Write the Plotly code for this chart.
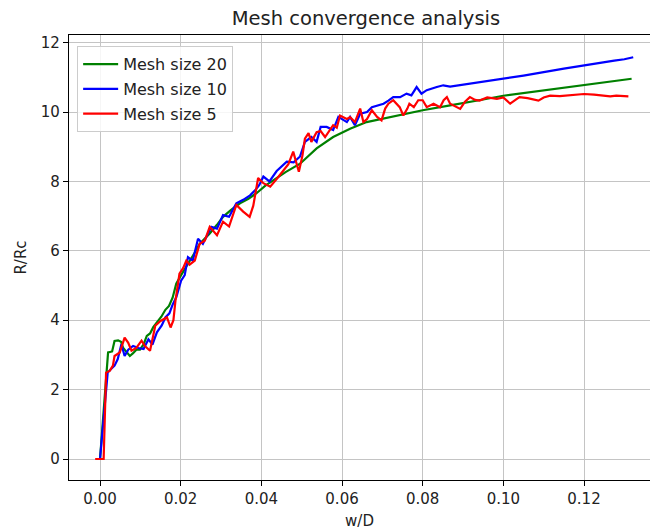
import plotly.graph_objects as go

# Mesh size 20
w20 = [0, 0.0015, 0.002, 0.003, 0.0036, 0.0045, 0.0052, 0.0057, 0.0065, 0.0074, 0.0082, 0.009,
       0.0099, 0.0108, 0.0116, 0.0124, 0.0132, 0.0141, 0.0152, 0.0162, 0.0171, 0.018, 0.0189,
       0.0201, 0.0212, 0.0222, 0.0235, 0.0247, 0.026, 0.0272, 0.029, 0.0305, 0.0325, 0.0347,
       0.0368, 0.0388, 0.041, 0.0435, 0.046, 0.0496, 0.0537, 0.0578, 0.062, 0.0661, 0.0703,
       0.0744, 0.08, 0.0868, 0.09, 0.095, 0.1, 0.105, 0.11, 0.115, 0.12, 0.1255, 0.1318]
r20 = [0, 2.54, 3.07, 3.1, 3.4, 3.42, 3.38, 3.21, 3.1, 2.97, 3.05, 3.15, 3.15, 3.3, 3.55, 3.62,
       3.8, 3.93, 4.1, 4.3, 4.41, 4.65, 5.05, 5.3, 5.5, 5.72, 5.95, 6.2, 6.35, 6.5, 6.75, 6.98,
       7.18, 7.37, 7.5, 7.66, 7.88, 8.08, 8.27, 8.51, 8.95, 9.28, 9.52, 9.71, 9.81, 9.9, 10.05,
       10.19, 10.25, 10.36, 10.47, 10.55, 10.63, 10.7, 10.77, 10.86, 10.96]

# Mesh size 10
w10 = [0, 0.0019, 0.0028, 0.0036, 0.0044, 0.0053, 0.0061, 0.007, 0.0082, 0.0095, 0.0108, 0.012,
       0.013, 0.0141, 0.0153, 0.0162, 0.0172, 0.018, 0.0189, 0.0201, 0.021, 0.0218, 0.023, 0.0243,
       0.0255, 0.0265, 0.0276, 0.029, 0.0305, 0.032, 0.0338, 0.0355, 0.0372, 0.0385, 0.0395,
       0.0405, 0.042, 0.0438, 0.0463, 0.048, 0.0496, 0.0508, 0.0524, 0.0537, 0.0547, 0.0562,
       0.0578, 0.0591, 0.0612, 0.062, 0.0632, 0.0645, 0.0662, 0.0674, 0.069, 0.0703, 0.0715,
       0.0727, 0.0744, 0.076, 0.0772, 0.0785, 0.0797, 0.081, 0.0835, 0.0851, 0.0868, 0.088, 0.09,
       0.0925, 0.095, 0.0975, 0.1, 0.1025, 0.105, 0.1075, 0.11, 0.1125, 0.115, 0.1175, 0.12,
       0.1225, 0.125, 0.1275, 0.13, 0.1322]
r10 = [0, 2.49, 2.6, 2.69, 2.88, 3.31, 2.97, 3.15, 3.26, 3.2, 3.17, 3.45, 3.3, 3.65, 3.85, 4.08,
       4.2, 4.45, 4.66, 5.14, 5.3, 5.82, 5.72, 6.35, 6.2, 6.45, 6.69, 6.64, 7.03, 6.98, 7.37, 7.47,
       7.6, 7.75, 7.9, 8.14, 8.0, 8.3, 8.57, 8.55, 8.72, 9.14, 9.28, 9.14, 9.57, 9.57, 9.48, 9.86,
       9.71, 9.86, 9.62, 9.95, 10.0, 10.14, 10.19, 10.24, 10.33, 10.43, 10.43, 10.53, 10.48, 10.72,
       10.53, 10.63, 10.72, 10.77, 10.73, 10.75, 10.8, 10.84, 10.87, 10.91, 10.96, 11.0, 11.05,
       11.1, 11.16, 11.2, 11.25, 11.3, 11.35, 11.4, 11.44, 11.48, 11.52, 11.58]

# Mesh size 5
w5 = [-0.0012, 0.0009, 0.0015, 0.0024, 0.0032, 0.0036, 0.0049, 0.0061, 0.007, 0.0078, 0.009,
      0.0103, 0.0112, 0.0124, 0.0137, 0.015, 0.0166, 0.0175, 0.0182, 0.0187, 0.0197, 0.0206,
      0.0214, 0.0222, 0.0235, 0.0247, 0.026, 0.0272, 0.029, 0.0305, 0.032, 0.0338, 0.0355, 0.0371,
      0.038, 0.0392, 0.0405, 0.0422, 0.044, 0.0455, 0.0467, 0.0479, 0.0493, 0.0502, 0.0508,
      0.0517, 0.0524, 0.0537, 0.0547, 0.0558, 0.057, 0.0578, 0.0587, 0.0595, 0.0612, 0.062,
      0.0632, 0.0645, 0.0653, 0.0662, 0.0674, 0.0687, 0.0698, 0.0707, 0.0715, 0.0727, 0.0743,
      0.0752, 0.0762, 0.0767, 0.0778, 0.0789, 0.08, 0.081, 0.0827, 0.0843, 0.0852, 0.086, 0.0868,
      0.0893, 0.0905, 0.0917, 0.093, 0.0941, 0.096, 0.0984, 0.1, 0.1017, 0.103, 0.104, 0.106,
      0.1087, 0.11, 0.1116, 0.114, 0.117, 0.12, 0.1225, 0.125, 0.1265, 0.128, 0.131]
r5 = [0, 0, 2.49, 2.54, 2.69, 2.97, 3.07, 3.5, 3.35, 3.12, 3.2, 3.41, 3.25, 3.12, 3.84, 3.98, 4.08,
      3.79, 4.0, 4.56, 5.34, 5.5, 5.72, 5.6, 5.72, 6.2, 6.3, 6.69, 6.45, 6.84, 6.7, 7.32, 7.13, 6.98,
      7.3, 8.1, 7.95, 7.85, 8.1, 8.33, 8.5, 8.86, 8.28, 8.75, 9.23, 9.39, 9.14, 9.42, 9.45, 9.28,
      9.5, 9.62, 9.55, 9.9, 9.8, 9.85, 9.71, 10.1, 9.71, 9.8, 10.05, 9.86, 9.76, 10.1, 10.24,
      10.34, 10.14, 9.9, 10.1, 10.24, 10.14, 10.34, 10.34, 10.14, 10.24, 10.14, 10.34, 10.43,
      10.24, 10.09, 10.3, 10.43, 10.35, 10.33, 10.42, 10.38, 10.42, 10.24, 10.35, 10.43, 10.4,
      10.33, 10.42, 10.47, 10.46, 10.49, 10.52, 10.5, 10.48, 10.45, 10.47, 10.45]

series = [("Mesh size 20", w20, r20, "#008000"),
          ("Mesh size 10", w10, r10, "#0000ff"),
          ("Mesh size 5", w5, r5, "#ff0000")]

FONT = "DejaVu Sans"
fig = go.Figure()
for i, (name, xs, ys, col) in enumerate(series):
    fig.add_trace(go.Scatter(x=xs, y=ys, mode="lines", name=name,
                             legendgroup=str(i),
                             line=dict(color=col, width=2.2)))

axis_common = dict(showgrid=True, gridcolor="#c4c4c4", gridwidth=1.2, zeroline=False,
                   showline=True, linecolor="black", linewidth=1.2,
                   ticks="outside", ticklen=5, tickwidth=1.2, tickcolor="black",
                   tickfont=dict(family=FONT, size=15, color="#222222"))

fig.update_layout(
    width=650, height=532,
    margin=dict(l=69, r=0, t=35, b=52),
    paper_bgcolor="white", plot_bgcolor="white",
    font=dict(family=FONT, color="#222222"),
    title=dict(text="Mesh convergence analysis", x=0.563, xanchor="center",
               y=1 - 18 / 532, yanchor="middle", font=dict(family=FONT, size=19.5, color="#222222")),
    xaxis=dict(range=[-0.00769, 0.13636], tickvals=[0, 0.02, 0.04, 0.06, 0.08, 0.10, 0.12],
               tickformat=".2f", mirror=True,
               title=dict(text="w/D", font=dict(family=FONT, size=15), standoff=8),
               **axis_common),
    yaxis=dict(range=[-0.605, 12.22], tickvals=[0, 2, 4, 6, 8, 10, 12],
               title=dict(text="R/Rc", font=dict(family=FONT, size=15), standoff=10),
               **axis_common),
    legend=dict(x=0.014, y=0.975, xanchor="left", yanchor="top",
                bgcolor="rgba(255,255,255,0.85)", bordercolor="#cccccc", borderwidth=1,
                font=dict(family=FONT, size=16, color="#222222"),
                traceorder="grouped", tracegroupgap=1, itemwidth=35),
    showlegend=True,
)

fig.write_html("out.html")
